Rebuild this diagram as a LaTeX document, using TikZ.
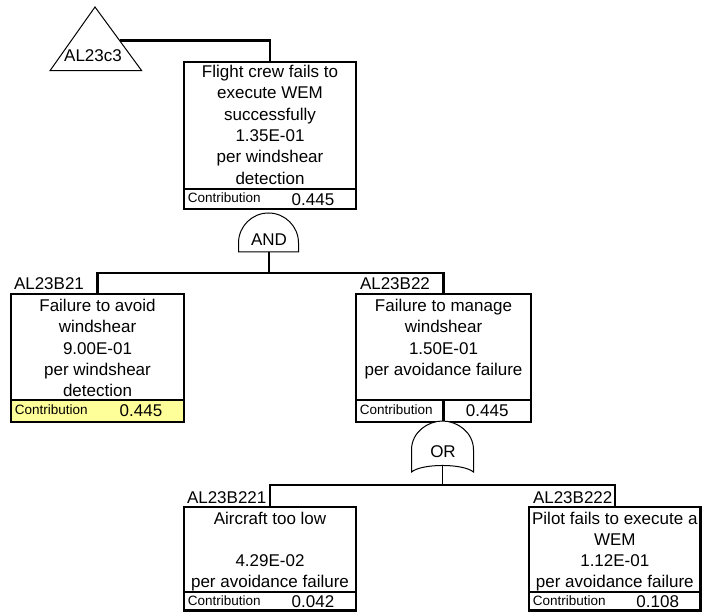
\documentclass[tikz,border=0pt]{standalone}
\usepackage{fontspec}
\setmainfont{Liberation Sans}
\usetikzlibrary{calc}
\definecolor{contribyellow}{HTML}{FFFF99}
\begin{document}
\begin{tikzpicture}[x=1pt, y=-1pt,
  every node/.style={inner sep=0pt, outer sep=0pt},
  evbox/.style={draw, rectangle, line width=2.6pt},
  desc/.style={font=\fontsize{17}{21.3}\selectfont, align=center, anchor=north},
  contriblabel/.style={font=\fontsize{13.5}{16}\selectfont, anchor=base west},
  contribvalue/.style={font=\fontsize{17}{21}\selectfont, anchor=base},
  eventid/.style={font=\fontsize{17}{21}\selectfont, anchor=base west},
  gatelabel/.style={font=\fontsize{17}{21}\selectfont, anchor=base},
  conn/.style={line width=2.6pt},
  gateshape/.style={draw, fill=white, line width=1pt},
  gatestem/.style={line width=1.3pt}
]
\useasboundingbox (0,0) rectangle (702,612);

% transfer-in triangle
\coordinate (triapex) at (95,7);
\coordinate (triright) at (141.7,70.7);
\coordinate (trileft) at (50,70.7);
\draw[line width=1pt] (triapex) -- (triright) -- (trileft) -- cycle;
\node[gatelabel] (trilabel) at (93,61.7) {AL23c3};
\coordinate (trijoin) at ($(triapex)!0.53!(triright)$);

% top event
\node[evbox, minimum width=172pt, minimum height=127pt] (top) at (270,125.5) {};
\node[evbox, minimum width=172pt, minimum height=20pt] (topc) at (270,199) {};
\node[desc] (toptxt) at (270,65.2) {Flight crew fails to\\execute WEM\\successfully\\1.35E-01\\per windshear\\detection};
\node[contriblabel] (topcl) at (187.8,202.7) {Contribution};
\node[contribvalue] (topcv) at (313,205.7) {0.445};
\draw[conn] (trijoin) -| (top.north);

% AND gate
\draw[gateshape] (238.5,252) -- (238.5,243) arc[start angle=180, end angle=360, radius=30] -- (298.5,252) -- cycle;
\node[gatelabel] (andlabel) at (269,246) {AND};
\coordinate (andout) at (269,252);
\coordinate (andbus) at (269,273);

% AL23B21
\node[evbox, minimum width=173pt, minimum height=106pt] (b21) at (97.5,347) {};
\node[evbox, fill=contribyellow, minimum width=173pt, minimum height=22pt] (b21c) at (97.5,411) {};
\node[desc] (b21txt) at (97.5,299.2) {Failure to avoid\\windshear\\9.00E-01\\per windshear\\detection};
\node[contriblabel] (b21cl) at (14.8,414) {Contribution};
\node[contribvalue] (b21cv) at (141,416.5) {0.445};
\node[eventid] (b21id) at (14,290) {AL23B21};

% AL23B22
\node[evbox, minimum width=175pt, minimum height=106pt] (b22) at (443.5,347) {};
\node[evbox, minimum width=175pt, minimum height=22pt] (b22c) at (443.5,411) {};
\draw[conn] (b22c.north) -- (b22c.south);
\node[desc] (b22txt) at (443.5,299.2) {Failure to manage\\windshear\\1.50E-01\\per avoidance failure};
\node[contriblabel] (b22cl) at (359.8,414) {Contribution};
\node[contribvalue] (b22cv) at (487.25,416.5) {0.445};
\node[eventid] (b22id) at (360,289.5) {AL23B22};

\draw[gatestem] (andout) -- (andbus);
\draw[conn] (b21.north) |- (andbus) -| (b22.north);

% OR gate
\draw[gateshape] (411.5,472) -- (411.5,450)
  .. controls (411.5,432) and (428,421) .. (442.5,421)
  .. controls (457,421) and (473.5,432) .. (473.5,450)
  -- (473.5,472)
  .. controls (463,463.3) and (422,463.3) .. cycle;
\node[gatelabel] (orlabel) at (443,457.7) {OR};
\coordinate (orout) at (442.5,465.5);
\coordinate (orbus) at (442.5,485);

% AL23B221
\node[evbox, minimum width=172pt, minimum height=85pt] (b221) at (270,549.5) {};
\node[evbox, minimum width=172pt, minimum height=18.3pt] (b221c) at (270,601.15) {};
\node[desc] (b221txt) at (270,511.7) {Aircraft too low\\\mbox{}\\4.29E-02\\per avoidance failure};
\node[contriblabel] (b221cl) at (187.8,605.7) {Contribution};
\node[contribvalue] (b221cv) at (313,607.3) {0.042};
\node[eventid] (b221id) at (187,503.5) {AL23B221};

% AL23B222
\node[evbox, minimum width=171.6pt, minimum height=85pt] (b222) at (614.8,549.5) {};
\node[evbox, minimum width=171.6pt, minimum height=18.3pt] (b222c) at (614.8,601.15) {};
\node[desc] (b222txt) at (614.8,511.7) {Pilot fails to execute a\\WEM\\1.12E-01\\per avoidance failure};
\node[contriblabel] (b222cl) at (532.8,605.5) {Contribution};
\node[contribvalue] (b222cv) at (657.7,607.3) {0.108};
\node[eventid] (b222id) at (533,503) {AL23B222};

\draw[gatestem] (orout) -- (orbus);
\draw[conn] (b221.north) |- (orbus) -| (b222.north);
\end{tikzpicture}
\end{document}
